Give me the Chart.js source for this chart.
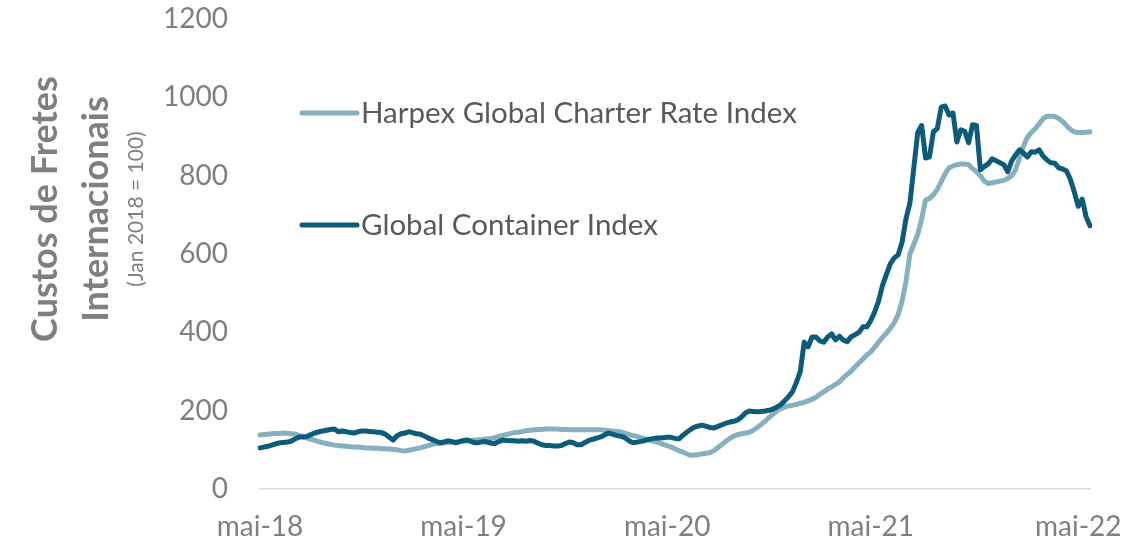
<!DOCTYPE html>
<html><head><meta charset="utf-8">
<script src="https://cdn.jsdelivr.net/npm/chart.js@4.4.1/dist/chart.umd.min.js"></script>
<style>html,body{margin:0;padding:0;background:#fff;}#wrap{width:1143px;height:542px;position:relative;}</style>
</head><body><div id="wrap"><canvas id="c" width="1143" height="542"></canvas></div>
<script>
// Weekly observations, first week of May 2018 to mid-June 2022
const seriesNames = ['Harpex Global Charter Rate Index', 'Global Container Index'];

const harpex = [
138,139,140,141,142,142,143,142,141,140,
137,134,130,127,124,121,118,116,114,112,
111,110,109,108,107,107,106,105,105,104,
104,103,103,102,101,100,98,97,99,101,
103,105,108,111,114,116,117,118,119,120,
120,121,122,123,124,125,126,127,128,129,
131,134,137,139,142,144,145,147,149,150,
151,152,152,153,153,153,153,152,152,151,
151,151,151,151,151,151,151,151,150,149,
148,147,146,143,140,137,135,132,129,126,
123,121,118,114,111,107,103,98,94,90,
86,87,88,90,91,93,98,106,114,122,
129,135,139,141,143,145,150,157,165,173,
182,191,199,205,209,212,214,216,219,221,
225,229,234,242,248,255,261,267,274,284,
293,301,312,322,332,342,350,362,375,387,
398,410,425,445,480,530,600,625,650,690,
738,742,751,765,785,805,820,825,828,830,
830,828,818,810,800,786,780,782,784,786,
788,793,800,815,845,875,898,910,920,932,
945,952,952,951,946,938,928,918,912,910,
910,911,912
];

const gci = [
105,107,109,112,115,118,119,120,122,128,
133,133,134,139,143,146,148,150,152,153,
146,148,146,144,143,146,148,148,147,146,
145,144,140,132,125,136,141,143,146,144,
141,140,135,130,126,122,118,120,123,121,
118,121,124,125,121,118,119,121,120,117,
116,121,125,124,123,123,122,123,122,124,
122,117,113,111,111,110,110,111,116,120,
118,113,113,119,124,127,130,133,138,143,
140,137,135,132,125,119,119,121,123,126,
128,130,130,131,132,132,129,128,137,145,
152,158,161,163,160,157,156,160,164,168,
171,173,176,184,194,199,198,197,198,199,
201,204,209,215,225,236,248,272,300,375,
363,388,388,378,375,388,396,381,390,380,
376,389,394,400,414,414,430,452,480,520,
548,575,590,598,630,690,730,820,910,928,
845,848,912,920,975,978,955,960,886,917,
913,884,930,928,815,823,830,843,838,833,
828,810,838,853,866,858,848,861,860,866,
850,840,833,832,820,817,812,790,758,722,
740,695,672
];

const tickIndices = [0, 52, 104, 156, 209];
const tickLabels = ['mai-18', 'mai-19', 'mai-20', 'mai-21', 'mai-22'];
const yTitle = ['Custos de Fretes', 'Internacionais', '(Jan 2018 = 100)'];

// weekly category labels
const weeks = [];
{
  const d0 = new Date(Date.UTC(2018, 4, 4));
  for (let i = 0; i < gci.length; i++) {
    const d = new Date(d0.getTime() + i * 7 * 86400000);
    weeks.push(d.toISOString().slice(0, 10));
  }
}

const LIGHT = '#85b1be';
const DARK = '#0b5b79';

const legendPlugin = {
  id: 'customLegend',
  afterDraw(chart) {
    const ctx = chart.ctx;
    const rows = [113, 225];
    ctx.save();
    chart.data.datasets.forEach((ds, i) => {
      const y = rows[i];
      ctx.strokeStyle = ds.borderColor;
      ctx.lineWidth = 5;
      ctx.lineCap = 'round';
      ctx.beginPath();
      ctx.moveTo(302, y);
      ctx.lineTo(357, y);
      ctx.stroke();
      ctx.fillStyle = '#595959';
      ctx.font = '29.5px Lato';
      ctx.textAlign = 'left';
      ctx.textBaseline = 'middle';
      ctx.fillText(ds.label, 361, y);
    });
    ctx.restore();
  }
};

const yTitlePlugin = {
  id: 'yTitle',
  afterDraw(chart) {
    const ctx = chart.ctx;
    ctx.save();
    ctx.fillStyle = '#7f7f7f';
    ctx.textAlign = 'center';
    ctx.textBaseline = 'alphabetic';
    const items = [
      {x: 57, font: 'bold 36px Lato'},
      {x: 108, font: 'bold 36px Lato'},
      {x: 143, font: '21px Lato'}
    ];
    items.forEach((it, i) => {
      ctx.save();
      ctx.translate(it.x, 209);
      ctx.rotate(-Math.PI / 2);
      ctx.font = it.font;
      ctx.fillText(yTitle[i], 0, 0);
      ctx.restore();
    });
    ctx.restore();
  }
};

new Chart(document.getElementById('c'), {
  type: 'line',
  data: {
    labels: weeks,
    datasets: [
      {label: seriesNames[0], data: harpex, borderColor: LIGHT, backgroundColor: LIGHT, order: 2},
      {label: seriesNames[1], data: gci, borderColor: DARK, backgroundColor: DARK, order: 1}
    ]
  },
  options: {
    responsive: false,
    animation: false,
    devicePixelRatio: 1,
    layout: {padding: {top: 19, right: 53, bottom: 0, left: 0}},
    elements: {
      line: {borderWidth: 5, tension: 0, borderCapStyle: 'round', borderJoinStyle: 'round'},
      point: {radius: 0, hoverRadius: 0}
    },
    plugins: {legend: {display: false}, tooltip: {enabled: false}},
    scales: {
      x: {
        type: 'category',
        offset: false,
        grid: {display: false, drawTicks: false},
        border: {display: true, color: '#d9d9d9', width: 1.5},
        afterBuildTicks(scale) {
          scale.ticks = scale.ticks.filter(t => tickIndices.includes(t.value));
        },
        afterFit(scale) { scale.height = 53; scale.paddingLeft = 0; scale.paddingRight = 0; },
        ticks: {
          autoSkip: false,
          maxRotation: 0,
          minRotation: 0,
          padding: 21,
          color: '#7f7f7f',
          font: {family: 'Lato', size: 28},
          callback(value) {
            const k = tickIndices.indexOf(value);
            return k >= 0 ? tickLabels[k] : null;
          }
        }
      },
      y: {
        min: 0,
        max: 1200,
        grid: {display: false, drawTicks: false},
        border: {display: false},
        afterFit(scale) { scale.width = 260; scale.paddingTop = 0; scale.paddingBottom = 0; },
        ticks: {
          stepSize: 200,
          padding: 32,
          color: '#7f7f7f',
          font: {family: 'Lato', size: 28},
          callback(value) { return String(value); }
        }
      }
    }
  },
  plugins: [legendPlugin, yTitlePlugin]
});
</script>
</body></html>
